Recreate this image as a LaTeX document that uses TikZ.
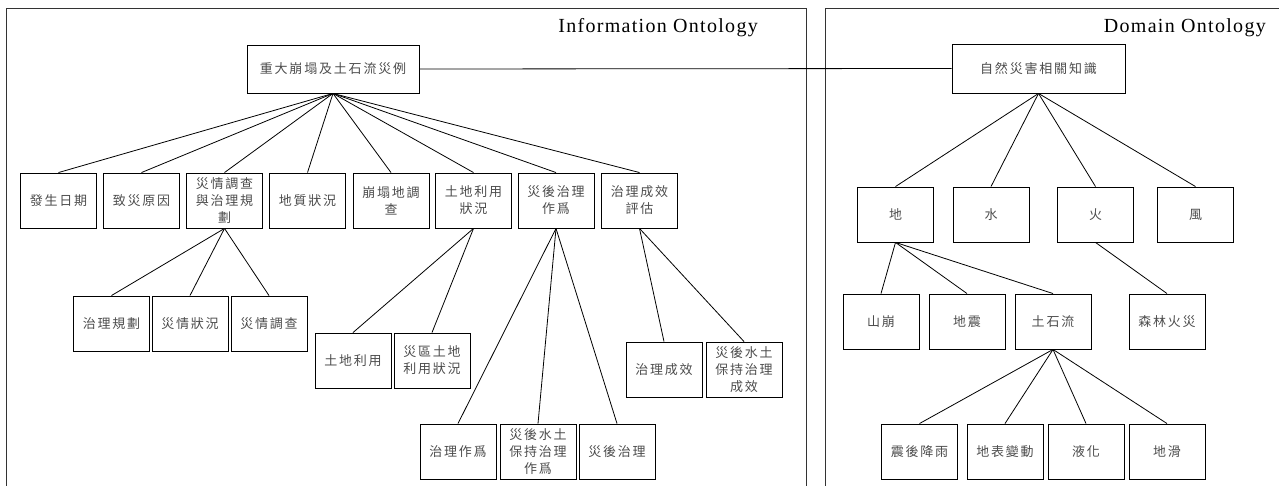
\documentclass[tikz,border=0pt]{standalone}
\usepackage{fontspec}
\newfontfamily\cjk{Noto Sans CJK TC}[LetterSpace=14]
\newfontfamily\titlefont{Liberation Serif}[LetterSpace=6.5]
\definecolor{txt}{gray}{0.3}
\begin{document}
\begin{tikzpicture}[x=1pt,y=-1pt,
  bx/.style={draw,line width=0.9pt,minimum width=76pt,minimum height=55pt,inner sep=1pt,
    align=center,font=\cjk\fontsize{13}{17}\selectfont,text=txt},
  rootbx/.style={bx,minimum width=172pt,minimum height=48pt},
  frame/.style={draw=black!80,line width=1pt},
  conn/.style={line width=0.8pt},
  ttl/.style={anchor=east,font=\titlefont\fontsize{20}{22}\selectfont,inner sep=0pt}]
\useasboundingbox (0,0) rectangle (1279,486);
\draw[frame] (6,520) -- (6,9) -- (806,9) -- (806,520);
\draw[frame] (825,520) -- (825,9) -- (1300,9);
\node[ttl] (t1) at (758,28) {Information Ontology};
\node[ttl] (t2) at (1266,28) {Domain Ontology};
% Information ontology
\node[rootbx] (iroot) at (333,69) {重大崩塌及土石流災例};
\node[bx] (a1) at (58.5,200.5) {發生日期};
\node[bx] (a2) at (141.5,200.5) {致災原因};
\node[bx] (a3) at (224.5,200.5) {災情調查\\與治理規\\劃};
\node[bx] (a4) at (307.5,200.5) {地質狀況};
\node[bx] (a5) at (391,200.5) {崩塌地調\\查};
\node[bx] (a6) at (473.5,200.5) {土地利用\\狀況};
\node[bx] (a7) at (556,200.5) {災後治理\\作爲};
\node[bx] (a8) at (639.5,200.5) {治理成效\\評估};
\node[bx] (b1) at (111.5,323.5) {治理規劃};
\node[bx] (b2) at (190,323.5) {災情狀況};
\node[bx] (b3) at (269,323.5) {災情調查};
\node[bx] (c1) at (353,360.5) {土地利用};
\node[bx] (c2) at (432,360.5) {災區土地\\利用狀況};
\node[bx] (d1) at (458,451.5) {治理作爲};
\node[bx] (d2) at (538,451.5) {災後水土\\保持治理\\作爲};
\node[bx] (d3) at (617,451.5) {災後治理};
\node[bx] (e1) at (664,369.5) {治理成效};
\node[bx] (e2) at (744,369.5) {災後水土\\保持治理\\成效};
\foreach \n in {a1,a2,a3,a4,a5,a6,a7,a8} \draw[conn] (iroot.south) -- (\n.north);
\foreach \n in {b1,b2,b3} \draw[conn] (a3.south) -- (\n.north);
\foreach \n in {c1,c2} \draw[conn] (a6.south) -- (\n.north);
\foreach \n in {d1,d2,d3} \draw[conn] (a7.south) -- (\n.north);
\foreach \n in {e1,e2} \draw[conn] (a8.south) -- (\n.north);
% Domain ontology
\node[rootbx,minimum width=173pt,minimum height=49pt] (droot) at (1038.5,68.5) {自然災害相關知識};
\node[bx] (f1) at (895.5,214.5) {地};
\node[bx] (f2) at (991,214.5) {水};
\node[bx] (f3) at (1095.5,214.5) {火};
\node[bx] (f4) at (1195.5,214.5) {風};
\node[bx] (g1) at (881,321.5) {山崩};
\node[bx] (g2) at (967,321.5) {地震};
\node[bx] (g3) at (1053,321.5) {土石流};
\node[bx] (g4) at (1167,321.5) {森林火災};
\node[bx] (h1) at (919.5,451.5) {震後降雨};
\node[bx] (h2) at (1005,451.5) {地表變動};
\node[bx] (h3) at (1086,451.5) {液化};
\node[bx] (h4) at (1167,451.5) {地滑};
\foreach \n in {f1,f2,f3,f4} \draw[conn] (droot.south) -- (\n.north);
\foreach \n in {g1,g2,g3} \draw[conn] (f1.south) -- (\n.north);
\draw[conn] (f3.south) -- (g4.north);
\foreach \n in {h1,h2,h3,h4} \draw[conn] (g3.south) -- (\n.north);
\draw[conn] (iroot.east) -- (droot.west);
\end{tikzpicture}
\end{document}
